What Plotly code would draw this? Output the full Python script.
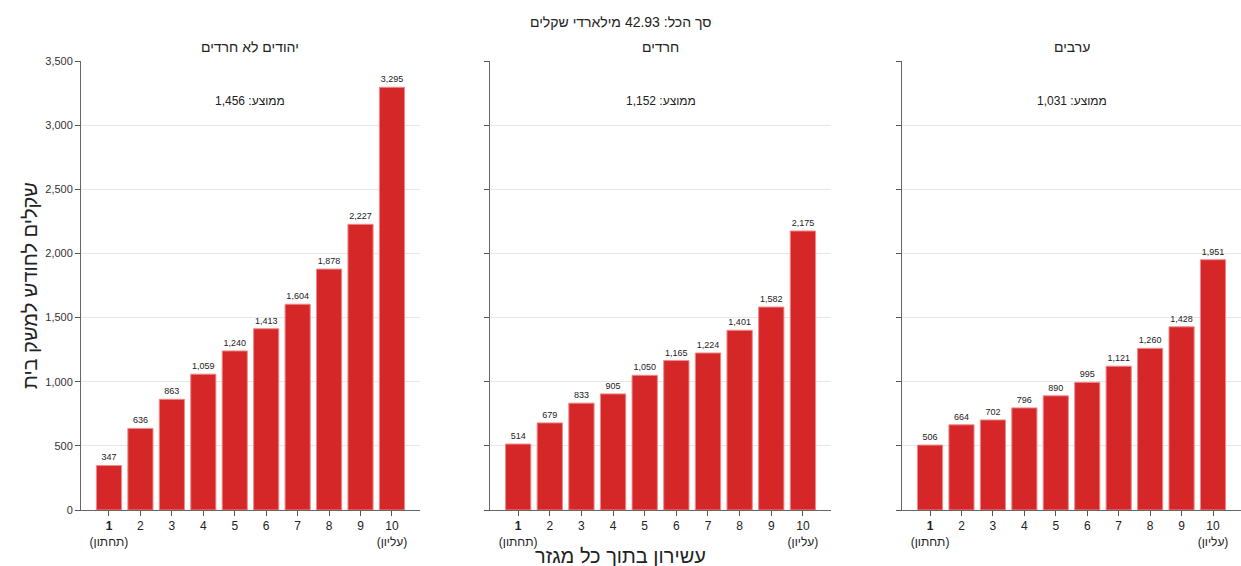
import plotly.graph_objects as go

deciles = [1, 2, 3, 4, 5, 6, 7, 8, 9, 10]
tick_labels = ["<b>1</b><br>(תחתון)", "2", "3", "4", "5", "6", "7", "8", "9", "10<br>(עליון)"]

sectors = ["יהודים לא חרדים", "חרדים", "ערבים"]
jews_non_haredi = [347, 636, 863, 1059, 1240, 1413, 1604, 1878, 2227, 3295]
haredim = [514, 679, 833, 905, 1050, 1165, 1224, 1401, 1582, 2175]
arabs = [506, 664, 702, 796, 890, 995, 1121, 1260, 1428, 1951]
averages = [1456, 1152, 1031]
total_title = "סך הכל: 42.93 מילארדי שקלים"
y_title = "שקלים לחודש למשק בית"
x_title = "עשירון בתוך כל מגזר"

series = [jews_non_haredi, haredim, arabs]

FONT = "Liberation Sans, DejaVu Sans, sans-serif"
BAR = "#d62728"
domains = [[0.0, 0.2922], [0.3526, 0.6466], [0.7078, 1.0]]

fig = go.Figure()
for i, vals in enumerate(series):
    sfx = "" if i == 0 else str(i + 1)
    fig.add_trace(go.Bar(
        x=deciles, y=vals,
        xaxis="x" + sfx, yaxis="y" + sfx,
        marker=dict(color=BAR, line=dict(color="#ee8a8a", width=1)),
        text=[f"{v:,}" for v in vals],
        textposition="outside",
        textfont=dict(size=9, color="#222", family=FONT),
        cliponaxis=False,
        showlegend=False,
        hoverinfo="skip",
    ))

layout = dict(
    width=1241, height=566,
    margin=dict(l=81, r=0, t=61, b=56),
    paper_bgcolor="white", plot_bgcolor="white",
    font=dict(family=FONT, color="#222"),
    bargap=0.2,
)

for i in range(3):
    sfx = "" if i == 0 else str(i + 1)
    layout["xaxis" + sfx] = dict(
        domain=domains[i], anchor="y" + sfx,
        range=[0.11, 10.89],
        tickmode="array", tickvals=deciles, ticktext=tick_labels,
        ticks="outside", ticklen=5, tickcolor="#555",
        showline=True, linecolor="#666", linewidth=1,
        showgrid=False, zeroline=False,
        tickfont=dict(size=12, color="#222"),
    )
    layout["yaxis" + sfx] = dict(
        domain=[0, 1], anchor="x" + sfx,
        range=[0, 3500], dtick=500,
        tickformat=",",
        ticks="outside", ticklen=5, tickcolor="#555",
        showline=True, linecolor="#666", linewidth=1,
        showgrid=True, gridcolor="#e6e6e6", gridwidth=1,
        zeroline=False,
        showticklabels=(i == 0),
        tickfont=dict(size=11, color="#333"),
    )

annotations = []
for i in range(3):
    cx = (domains[i][0] + domains[i][1]) / 2
    annotations.append(dict(
        text=sectors[i], x=cx, y=1.0312, xref="paper", yref="paper",
        showarrow=False, font=dict(size=14, color="#222"), xanchor="center", yanchor="middle",
    ))
    annotations.append(dict(
        text=f"ממוצע: {averages[i]:,}", x=cx, y=0.911, xref="paper", yref="paper",
        showarrow=False, font=dict(size=12, color="#222"), xanchor="center", yanchor="middle",
    ))

annotations.append(dict(
    text=total_title, x=0.4655, y=1.0869, xref="paper", yref="paper",
    showarrow=False, font=dict(size=14, color="#222"), xanchor="center", yanchor="middle",
))
annotations.append(dict(
    text=y_title, x=-0.044, y=0.501, xref="paper", yref="paper", textangle=-90,
    showarrow=False, font=dict(size=20, color="#222"), xanchor="center", yanchor="middle",
))
annotations.append(dict(
    text=x_title, x=0.4655, y=-0.1024, xref="paper", yref="paper",
    showarrow=False, font=dict(size=20, color="#222"), xanchor="center", yanchor="middle",
))
layout["annotations"] = annotations

fig.update_layout(**layout)
fig.write_html(
    "out.html",
    config={"displayModeBar": False},
    post_script="document.body.style.margin='0';document.body.style.padding='0';",
)
